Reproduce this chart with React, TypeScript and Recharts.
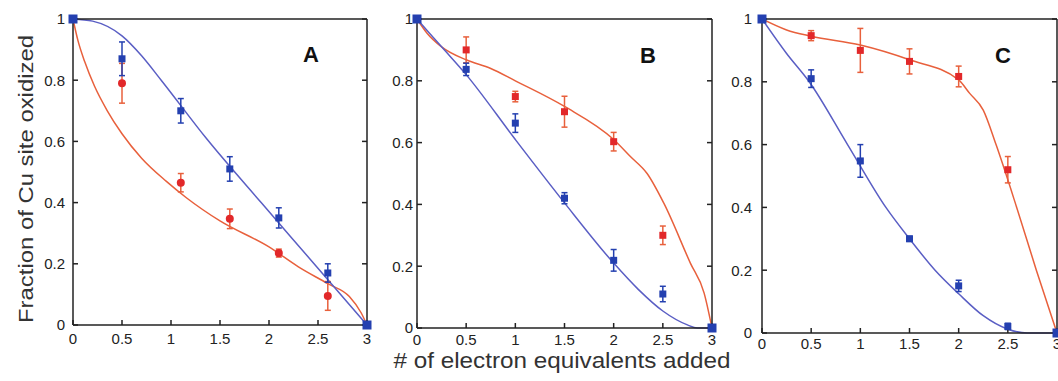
import React from 'react';
import { ComposedChart, Line, Scatter, ErrorBar, XAxis, YAxis } from 'recharts';

const xTicks = [0, 0.5, 1, 1.5, 2, 2.5, 3];
const yTicks = [0, 0.2, 0.4, 0.6, 0.8, 1];

// end points shared by all three panels
const endX = [0, 3];
const endY = [1, 0];

// panel A - measured points
const aBlueX = [0.5, 1.1, 1.6, 2.1, 2.6];
const aBlueY = [0.87, 0.7, 0.51, 0.35, 0.17];
const aBlueErr = [0.055, 0.04, 0.04, 0.033, 0.03];
const aRedX = [0.5, 1.1, 1.6, 2.1, 2.6];
const aRedY = [0.79, 0.465, 0.347, 0.235, 0.095];
const aRedErr = [0.065, 0.03, 0.032, 0.013, 0.047];
// panel A - fitted curves
const aFitBlueX = [0, 0.2, 0.5, 0.7, 0.9, 1.36, 1.92, 2.42, 3];
const aFitBlueY = [1, 0.993, 0.945, 0.88, 0.8, 0.61, 0.4, 0.215, 0];
const aFitRedX = [0, 0.05, 0.12, 0.22, 0.35, 0.5, 0.7, 0.95, 1.16, 1.5, 2, 2.3, 2.6, 2.82, 2.94, 3];
const aFitRedY = [1, 0.93, 0.86, 0.78, 0.7, 0.625, 0.545, 0.47, 0.415, 0.34, 0.255, 0.19, 0.135, 0.093, 0.04, 0];

// panel B
const bBlueX = [0.5, 1, 1.5, 2, 2.5];
const bBlueY = [0.837, 0.663, 0.42, 0.219, 0.11];
const bBlueErr = [0.02, 0.03, 0.018, 0.035, 0.025];
const bRedX = [0.5, 1, 1.5, 2, 2.5];
const bRedY = [0.9, 0.749, 0.7, 0.603, 0.3];
const bRedErr = [0.042, 0.017, 0.05, 0.03, 0.03];
const bFitBlueX = [0, 0.25, 0.5, 1, 1.5, 2, 2.25, 2.5, 2.75, 2.85, 3];
const bFitBlueY = [1, 0.91, 0.82, 0.61, 0.405, 0.21, 0.125, 0.055, 0.01, 0, 0];
const bFitRedX = [0, 0.1, 0.25, 0.5, 0.75, 1, 1.5, 2, 2.17, 2.34, 2.51, 2.78, 2.92, 3];
const bFitRedY = [1, 0.955, 0.91, 0.868, 0.84, 0.8, 0.717, 0.61, 0.555, 0.5, 0.404, 0.21, 0.113, 0];

// panel C
const cBlueX = [0.5, 1, 1.5, 2, 2.5];
const cBlueY = [0.81, 0.548, 0.3, 0.15, 0.021];
const cBlueErr = [0.028, 0.052, 0.008, 0.018, 0.01];
const cRedX = [0.5, 1, 1.5, 2, 2.5];
const cRedY = [0.947, 0.9, 0.865, 0.817, 0.52];
const cRedErr = [0.016, 0.07, 0.04, 0.033, 0.042];
const cFitBlueX = [0, 0.25, 0.48, 0.87, 1.26, 1.5, 1.76, 2, 2.25, 2.5, 2.7, 3];
const cFitBlueY = [1, 0.89, 0.8, 0.6, 0.4, 0.3, 0.2, 0.125, 0.055, 0.012, 0, 0];
const cFitRedX = [0, 0.25, 0.5, 1, 1.5, 2, 2.11, 2.25, 2.38, 2.59, 2.79, 3];
const cFitRedY = [1, 0.965, 0.945, 0.917, 0.87, 0.806, 0.764, 0.71, 0.6, 0.4, 0.2, 0];

const pts = (xs: number[], ys: number[], errs?: number[]) =>
  xs.map((x, i) => ({ x, y: ys[i], err: errs ? errs[i] : 0 }));

const BLUE_LINE = '#5a5ec4';
const BLUE_DOT = '#2440b0';
const RED_LINE = '#e8603c';
const RED_DOT = '#e2282a';
const FONT = 'Arial, "Liberation Sans", sans-serif';
const W = 1058;
const H = 381;
// room reserved for the axes around each plot box
const LEFT_W = 40;
const BOTTOM_H = 30;
const TOP_H = 10;
const RIGHT_W = 10;

const square = (size: number, fill: string) => (p: any) => (
  <rect x={p.cx - size / 2} y={p.cy - size / 2} width={size} height={size} fill={fill} />
);
const circle = (r: number, fill: string) => (p: any) => <circle cx={p.cx} cy={p.cy} r={r} fill={fill} />;
const noLabel = () => <g />;

type PanelProps = {
  box: { left: number; right: number; top: number; bottom: number };
  fitBlue: { x: number; y: number }[];
  fitRed: { x: number; y: number }[];
  blue: { x: number; y: number; err: number }[];
  red: { x: number; y: number; err: number }[];
  redRound: boolean;
  xGap: number;
  yGap: number;
};

function Panel({ box, fitBlue, fitRed, blue, red, redRound, xGap, yGap }: PanelProps) {
  const frame = { stroke: '#222', strokeWidth: 1.5 };
  const tickStyle = { fontSize: 15, fill: '#222', fontFamily: FONT };
  const cw = W + 40;
  return (
    <div style={{ position: 'absolute', left: 0, top: 0 }}>
      <ComposedChart
        width={cw}
        height={H}
        margin={{
          left: box.left - LEFT_W,
          right: cw - box.right - RIGHT_W,
          top: box.top - TOP_H,
          bottom: H - box.bottom - BOTTOM_H,
        }}
      >
        <XAxis dataKey="x" type="number" domain={[0, 3]} ticks={xTicks} height={BOTTOM_H}
          axisLine={frame} tickLine={frame} tickSize={-5} tickMargin={xGap} tick={tickStyle} />
        <XAxis xAxisId="top" orientation="top" type="number" domain={[0, 3]} ticks={xTicks} height={TOP_H}
          allowDataOverflow axisLine={frame} tickLine={frame} tickSize={-5} tick={noLabel} />
        <YAxis dataKey="y" type="number" domain={[0, 1]} ticks={yTicks} width={LEFT_W}
          axisLine={frame} tickLine={frame} tickSize={-5} tickMargin={yGap} tick={tickStyle} />
        <YAxis yAxisId="right" orientation="right" type="number" domain={[0, 1]} ticks={yTicks} width={RIGHT_W}
          allowDataOverflow axisLine={frame} tickLine={frame} tickSize={-5} tick={noLabel} />
        <Line data={fitRed} dataKey="y" type="monotone" stroke={RED_LINE} strokeWidth={1.5} dot={false} isAnimationActive={false} />
        <Line data={fitBlue} dataKey="y" type="monotone" stroke={BLUE_LINE} strokeWidth={1.5} dot={false} isAnimationActive={false} />
        <Scatter data={red} dataKey="y" shape={redRound ? circle(4, RED_DOT) : square(7, RED_DOT)} isAnimationActive={false}>
          <ErrorBar dataKey="err" direction="y" width={3} stroke={RED_LINE} strokeWidth={1.5} />
        </Scatter>
        <Scatter data={blue} dataKey="y" shape={square(7, BLUE_DOT)} isAnimationActive={false}>
          <ErrorBar dataKey="err" direction="y" width={3} stroke={BLUE_DOT} strokeWidth={1.5} />
        </Scatter>
        <Scatter data={pts(endX, endY)} dataKey="y" shape={square(9, BLUE_DOT)} isAnimationActive={false} />
      </ComposedChart>
    </div>
  );
}

export default function App() {
  return (
    <div style={{ position: 'fixed', left: 0, top: 0, width: W, height: H, background: '#fff', overflow: 'hidden' }}>
      <Panel
        box={{ left: 73, right: 367, top: 19, bottom: 325 }}
        fitBlue={pts(aFitBlueX, aFitBlueY)}
        fitRed={pts(aFitRedX, aFitRedY)}
        blue={pts(aBlueX, aBlueY, aBlueErr)}
        red={pts(aRedX, aRedY, aRedErr)}
        redRound
        xGap={13}
        yGap={13}
      />
      <Panel
        box={{ left: 417, right: 712, top: 19, bottom: 328 }}
        fitBlue={pts(bFitBlueX, bFitBlueY)}
        fitRed={pts(bFitRedX, bFitRedY)}
        blue={pts(bBlueX, bBlueY, bBlueErr)}
        red={pts(bRedX, bRedY, bRedErr)}
        redRound={false}
        xGap={11}
        yGap={9}
      />
      <Panel
        box={{ left: 762, right: 1057, top: 19, bottom: 333 }}
        fitBlue={pts(cFitBlueX, cFitBlueY)}
        fitRed={pts(cFitRedX, cFitRedY)}
        blue={pts(cBlueX, cBlueY, cBlueErr)}
        red={pts(cRedX, cRedY, cRedErr)}
        redRound={false}
        xGap={10}
        yGap={15}
      />
      <svg width={W} height={H} style={{ position: 'absolute', left: 0, top: 0, pointerEvents: 'none' }}>
        <text x={33} y={179} transform="rotate(-90, 33, 179)" textAnchor="middle" fontSize={21}
          fontFamily={FONT} fill="#333" textLength={288} lengthAdjust="spacingAndGlyphs">
          Fraction of Cu site oxidized
        </text>
        <text x={562} y={368} textAnchor="middle" fontSize={22} fontFamily={FONT} fill="#333"
          textLength={337} lengthAdjust="spacingAndGlyphs">
          # of electron equivalents added
        </text>
        <text x={311} y={62} textAnchor="middle" fontSize={22} fontWeight="bold" fontFamily={FONT} fill="#111">A</text>
        <text x={648} y={63} textAnchor="middle" fontSize={22} fontWeight="bold" fontFamily={FONT} fill="#111">B</text>
        <text x={1003} y={63} textAnchor="middle" fontSize={22} fontWeight="bold" fontFamily={FONT} fill="#111">C</text>
      </svg>
    </div>
  );
}
